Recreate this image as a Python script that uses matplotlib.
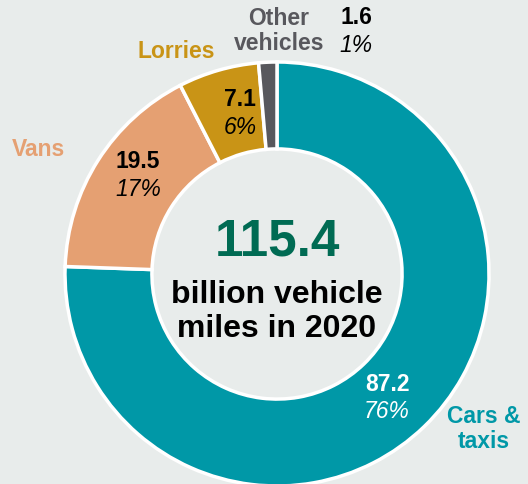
import matplotlib.pyplot as plt

plt.rcParams['font.family'] = ['Liberation Sans', 'DejaVu Sans']

# vehicle miles by type, 2020 (billions)
categories = ['Cars &\ntaxis', 'Vans', 'Lorries', 'Other\nvehicles']
miles = [87.2, 19.5, 7.1, 1.6]
shares = ['76%', '17%', '6%', '1%']
total = 115.4

colours = ['#0098a7', '#e5a072', '#c99416', '#58585d']
bg = '#e8eceb'

W, H = 528, 485
fig = plt.figure(figsize=(W / 100, H / 100), dpi=100, facecolor=bg)
ax = fig.add_axes([0, 0, 1, 1])
ax.set_facecolor(bg)

cx, cy, r = 277, H - 275, 212
ax.pie(miles, colors=colours, startangle=90, counterclock=False,
       radius=r, center=(cx, cy), frame=True,
       wedgeprops=dict(width=r * 0.41, edgecolor='white', linewidth=2.5))

ax.set_xlim(0, W)
ax.set_ylim(0, H)
ax.axis('off')

# category names outside the ring
name_pos = [(484, 429), (38, 150), (176, 51), (279, 31)]
for name, col, (x, y) in zip(categories, colours, name_pos):
    ax.text(x, H - y, name, color=col, fontsize=16.5, fontweight='bold',
            ha='center', va='center', linespacing=1.15)

# value and share labels
val_pos = [(387, 385), (138, 162), (240, 100), (356, 18)]
txt_cols = ['white', 'black', 'black', 'black']
for v, s, (x, y), c in zip(miles, shares, val_pos, txt_cols):
    ax.text(x, H - y, f'{v:.1f}', color=c, fontsize=16.5, fontweight='bold',
            ha='center', va='center')
    ax.text(x, H - y - 27, s, color=c, fontsize=16.5, fontstyle='italic',
            ha='center', va='center')

# centre total
ax.text(cx, H - 242, f'{total:.1f}', color='#006b53', fontsize=37,
        fontweight='bold', ha='center', va='center')
ax.text(cx, H - 312, 'billion vehicle\nmiles in 2020', color='black',
        fontsize=23, fontweight='bold', ha='center', va='center',
        linespacing=1.2)

fig.savefig('out.png', dpi=100, facecolor=bg)
